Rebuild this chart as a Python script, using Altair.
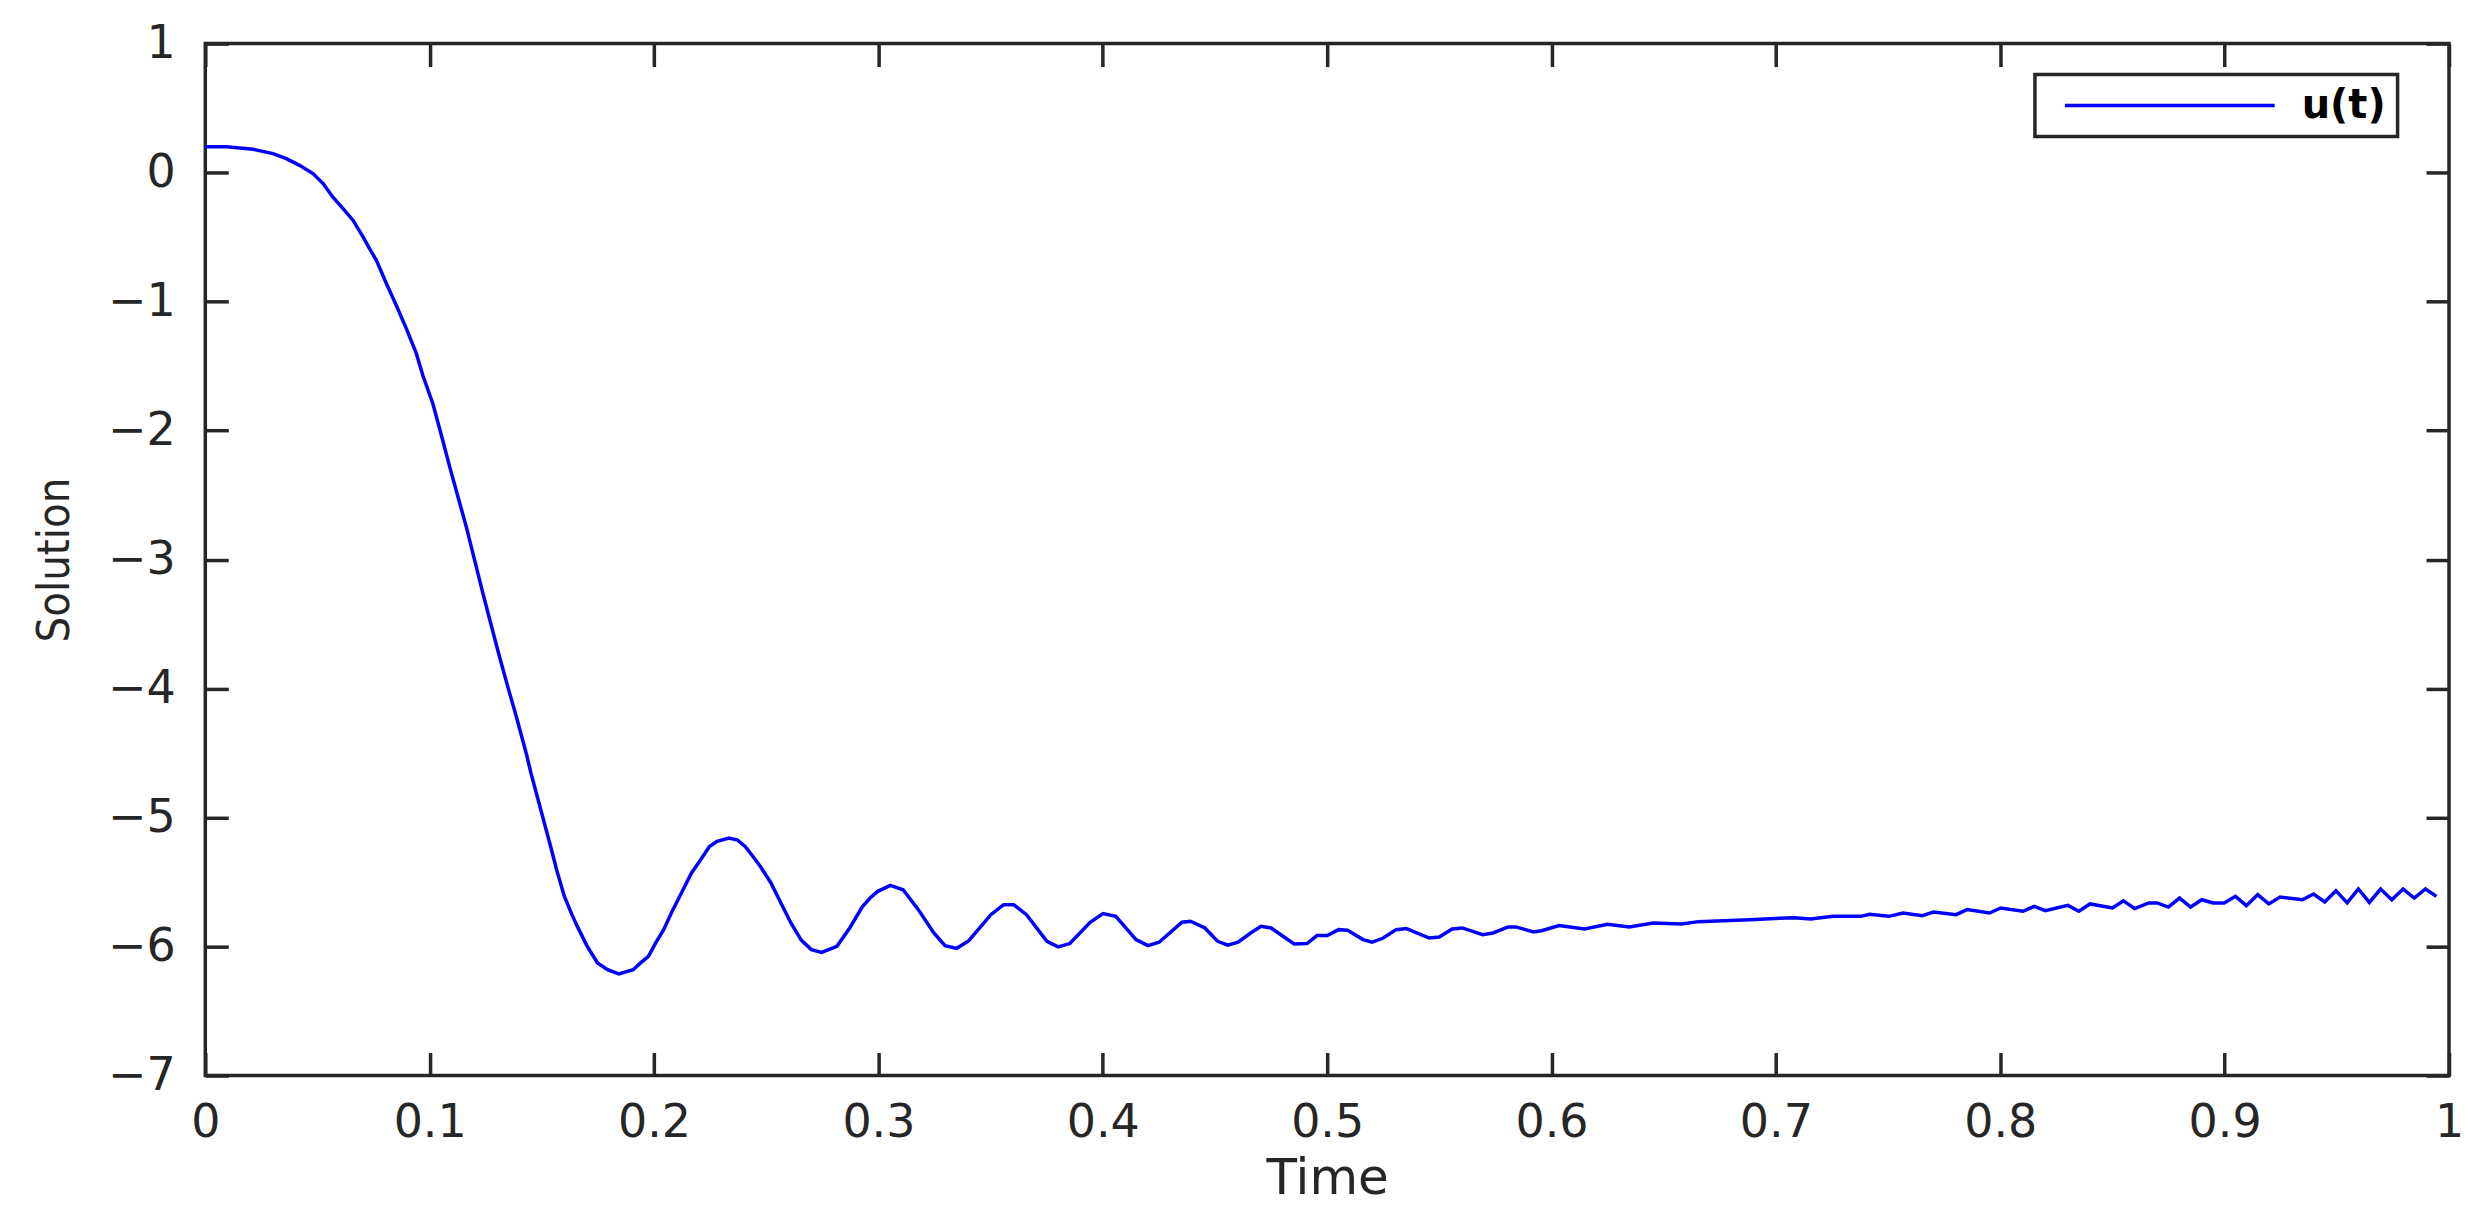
import altair as alt
import pandas as pd

# Time values (x) and solution values (y)
T = [0.0, 0.0094, 0.0213, 0.0302, 0.0361, 0.042, 0.048, 0.0525, 0.0568, 0.0614,
     0.0658, 0.0703, 0.0732, 0.0762, 0.0807, 0.0851, 0.0896, 0.094, 0.097, 0.1014,
     0.1052, 0.1089, 0.1126, 0.1163, 0.12, 0.1237, 0.1274, 0.1311, 0.1348, 0.1386,
     0.143, 0.1452, 0.1486, 0.1543, 0.1565, 0.16, 0.1634, 0.1657, 0.1702, 0.1748,
     0.1793, 0.1843, 0.1907, 0.194, 0.1975, 0.2008, 0.2043, 0.2077, 0.2122, 0.2167,
     0.2213, 0.2247, 0.2281, 0.2334, 0.2372, 0.2406, 0.244, 0.2474, 0.2521, 0.2565,
     0.261, 0.2656, 0.2701, 0.2747, 0.2815, 0.2872, 0.2929, 0.2963, 0.2997, 0.3053,
     0.311, 0.3178, 0.3247, 0.3297, 0.3349, 0.3403, 0.3501, 0.3558, 0.3603, 0.366,
     0.3751, 0.3801, 0.3853, 0.3944, 0.4001, 0.4058, 0.4148, 0.4201, 0.4251, 0.4353,
     0.4391, 0.4455, 0.4512, 0.4557, 0.4603, 0.4659, 0.4705, 0.475, 0.4853, 0.491,
     0.4955, 0.5001, 0.5051, 0.5091, 0.516, 0.52, 0.525, 0.5307, 0.5353, 0.5455,
     0.55, 0.5557, 0.5602, 0.5693, 0.5739, 0.5807, 0.5841, 0.592, 0.5955, 0.6034,
     0.6147, 0.625, 0.6346, 0.6454, 0.6579, 0.6654, 0.6881, 0.708, 0.7155, 0.7255,
     0.7379, 0.7417, 0.7504, 0.7566, 0.7653, 0.7703, 0.7803, 0.7852, 0.7952, 0.8002,
     0.8101, 0.8151, 0.8201, 0.8301, 0.835, 0.84, 0.85, 0.8549, 0.8599, 0.8662,
     0.8699, 0.8749, 0.8799, 0.8848, 0.8898, 0.8948, 0.8998, 0.9048, 0.9097, 0.9147,
     0.9197, 0.9247, 0.9347, 0.9396, 0.9446, 0.9496, 0.9546, 0.9596, 0.9645, 0.9695,
     0.9745, 0.9795, 0.9845, 0.9895, 0.9944]
U = [0.2, 0.2, 0.18, 0.147, 0.108, 0.056, -0.008, -0.085, -0.189, -0.279,
     -0.369, -0.499, -0.589, -0.679, -0.86, -1.028, -1.21, -1.40, -1.575, -1.79,
     -2.035, -2.28, -2.513, -2.745, -3.003, -3.26, -3.507, -3.752, -3.985, -4.217,
     -4.50, -4.66, -4.88, -5.25, -5.40, -5.61, -5.753, -5.84, -5.998, -6.127,
     -6.179, -6.212, -6.18, -6.127, -6.076, -5.97, -5.87, -5.74, -5.585, -5.43,
     -5.314, -5.224, -5.185, -5.159, -5.175, -5.224, -5.30, -5.38, -5.507, -5.66,
     -5.817, -5.95, -6.024, -6.045, -5.998, -5.856, -5.69, -5.624, -5.572, -5.526,
     -5.56, -5.714, -5.895, -5.993, -6.014, -5.955, -5.753, -5.676, -5.676, -5.753,
     -5.96, -6.003, -5.977, -5.812, -5.745, -5.766, -5.946, -5.993, -5.967, -5.812,
     -5.804, -5.856, -5.96, -5.99, -5.967, -5.895, -5.843, -5.856, -5.98, -5.977,
     -5.915, -5.915, -5.869, -5.874, -5.946, -5.967, -5.934, -5.869, -5.861, -5.934,
     -5.926, -5.864, -5.856, -5.908, -5.895, -5.848, -5.848, -5.887, -5.877, -5.838,
     -5.864, -5.828, -5.848, -5.817, -5.825, -5.807, -5.792, -5.776, -5.787, -5.766,
     -5.766, -5.75, -5.766, -5.74, -5.761, -5.732, -5.753, -5.714, -5.74, -5.701,
     -5.727, -5.689, -5.722, -5.681, -5.727, -5.67, -5.701, -5.645, -5.706, -5.662,
     -5.662, -5.694, -5.624, -5.694, -5.637, -5.662, -5.662, -5.611, -5.683, -5.598,
     -5.67, -5.616, -5.637, -5.593, -5.655, -5.567, -5.662, -5.554, -5.658, -5.554,
     -5.637, -5.554, -5.624, -5.554, -5.611]
SERIES = "u(t)"
X_TICKS = [0, 0.1, 0.2, 0.3, 0.4, 0.5, 0.6, 0.7, 0.8, 0.9, 1]
Y_TICKS = [-7, -6, -5, -4, -3, -2, -1, 0, 1]

df = pd.DataFrame({"t": T, "u": U, "series": [SERIES] * len(T)})

AX = "#262626"
xs = alt.Scale(domain=[0, 1], nice=False, zero=False)
ys = alt.Scale(domain=[-7, 1], nice=False, zero=False)

base = alt.Chart(df)

main = base.mark_line(strokeWidth=3.5).encode(
    x=alt.X("t:Q", scale=xs, axis=alt.Axis(
        values=X_TICKS, format="~g", title="Time", ticks=False, tickSize=0,
        domain=False, labelPadding=25, labelFont="DejaVu Sans", labelFontSize=46,
        labelColor=AX, titleFont="DejaVu Sans", titleFontSize=50,
        titleFontWeight="normal", titleColor=AX, titlePadding=8,
        labelFlush=False)),
    y=alt.Y("u:Q", scale=ys, axis=alt.Axis(
        values=Y_TICKS, format="~g", title="Solution", ticks=False, tickSize=0,
        domain=False, labelPadding=30, labelFont="DejaVu Sans", labelFontSize=46,
        labelColor=AX,
        titleFont="'Liberation Sans Narrow', 'DejaVu Sans Condensed', 'Liberation Sans'",
        titleFontSize=45, titleFontWeight="normal", titleColor=AX, titlePadding=30,
        labelFlush=False)),
    color=alt.Color("series:N", scale=alt.Scale(range=["#0000ff"]), legend=alt.Legend(
        title=None, orient="none", legendX=1831.5, legendY=31,
        symbolType="M-10,0H10", symbolSize=441, symbolStrokeWidth=3.5,
        symbolOffset=104, labelOffset=112, labelFont="DejaVu Sans",
        labelFontWeight="bold", labelFontSize=40, labelColor="#000000",
        padding=11, strokeColor=AX, fillColor="#ffffff", cornerRadius=0)),
)

tick_axis = dict(labels=False, title=None, domain=False, ticks=True, tickSize=23,
                 offset=-23, tickWidth=3.5, tickColor=AX, grid=False)

ticks_bl = base.mark_line(opacity=0).encode(
    x=alt.X("t:Q", scale=xs, axis=alt.Axis(values=X_TICKS, orient="bottom", **tick_axis)),
    y=alt.Y("u:Q", scale=ys, axis=alt.Axis(values=Y_TICKS, orient="left", **tick_axis)),
)
ticks_tr = base.mark_line(opacity=0).encode(
    x=alt.X("t:Q", scale=xs, axis=alt.Axis(values=X_TICKS, orient="top", **tick_axis)),
    y=alt.Y("u:Q", scale=ys, axis=alt.Axis(values=Y_TICKS, orient="right", **tick_axis)),
)

chart = alt.layer(main, ticks_bl, ticks_tr).resolve_axis(
    x="independent", y="independent"
).properties(
    width=2246, height=1033,
    autosize=alt.AutoSizeParams(type="none"),
    padding={"left": 197.5, "top": 35, "right": 20, "bottom": 140},
    background="#ffffff",
).configure_axis(grid=False).configure_view(
    stroke=AX, strokeWidth=3.5
).configure_legend(strokeWidth=3.5)

chart.save("out.html", embed_options={"renderer": "svg", "actions": False})
